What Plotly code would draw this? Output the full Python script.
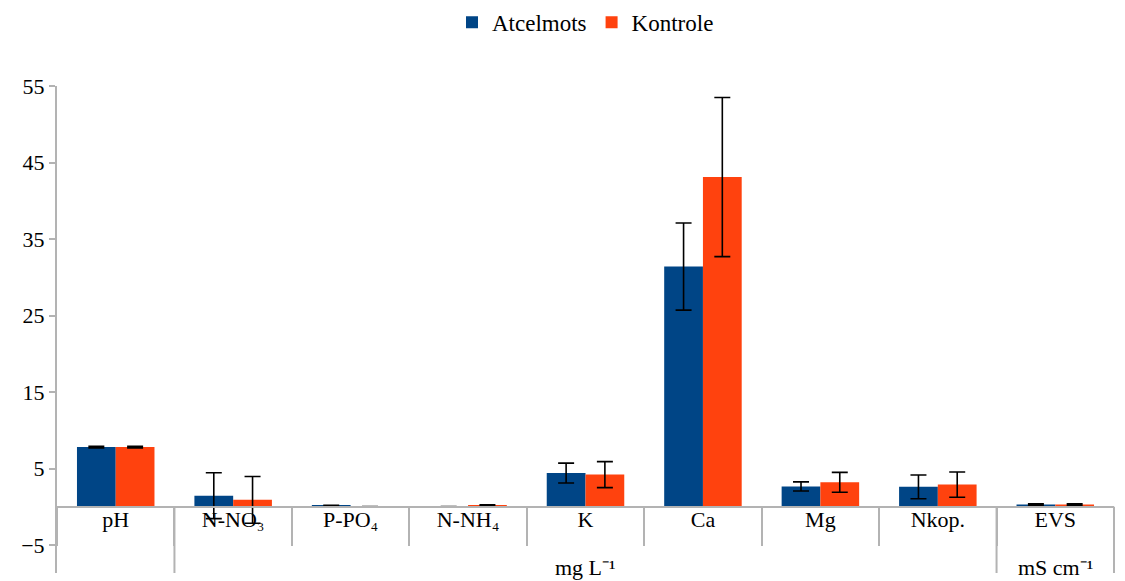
import plotly.graph_objects as go

categories = ["pH", "N-NO₃", "P-PO₄", "N-NH₄", "K", "Ca", "Mg", "Nkop.", "EVS"]
group_ids = ["", " ", " ", " ", " ", " ", " ", " ", "  "]
unit_labels = [("mg L⁻¹", "K"), ("mS cm⁻¹", "EVS")]

atcelmots = [7.8, 1.45, 0.1, 0.02, 4.4, 31.4, 2.65, 2.6, 0.3]
atcelmots_err = [0.1, 3.0, 0.1, 0.02, 1.3, 5.7, 0.6, 1.55, 0.1]
kontrole = [7.8, 0.9, 0.02, 0.15, 4.2, 43.1, 3.2, 2.9, 0.3]
kontrole_err = [0.1, 3.05, 0.02, 0.1, 1.7, 10.4, 1.3, 1.65, 0.1]

x = [group_ids, categories]
font = "Liberation Serif, Times New Roman, serif"
gray = "#b3b3b3"

fig = go.Figure()
fig.add_trace(go.Bar(
    name="Atcelmots", x=x, y=atcelmots, marker_color="#004586", marker_line_width=0,
    error_y=dict(type="data", array=atcelmots_err, color="black", thickness=1.6, width=8),
))
fig.add_trace(go.Bar(
    name="Kontrole", x=x, y=kontrole, marker_color="#FF420E", marker_line_width=0,
    error_y=dict(type="data", array=kontrole_err, color="black", thickness=1.6, width=8),
))

ymin, ymax = -8.66, 55.0

# long group dividers from the zero line to the bottom of the plot
n = len(categories)
bounds = [i for i in range(1, n) if group_ids[i] != group_ids[i - 1]] + [n]
for b in bounds:
    fig.add_shape(type="line", xref="paper", yref="y", x0=b / n, x1=b / n,
                  y0=ymin, y1=0, line=dict(color=gray, width=2), layer="below")

for text, cat in unit_labels:
    idx = categories.index(cat)
    fig.add_annotation(xref="paper", yref="y", x=(idx + 0.5) / n, y=-7.9,
                       text=text, showarrow=False, xanchor="center", yanchor="middle",
                       font=dict(family=font, size=22, color="black"))

fig.update_layout(
    width=1117, height=573,
    barmode="group", bargap=0.34, bargroupgap=0,
    plot_bgcolor="white", paper_bgcolor="white",
    margin=dict(l=49, r=11, t=78, b=8, autoexpand=False),
    font=dict(family=font, size=22, color="black"),
    showlegend=True,
    legend=dict(orientation="h", x=0.5, xanchor="center", y=1.131, yref="paper",
                yanchor="middle", valign="middle", font=dict(family=font, size=23),
                itemwidth=30, tracegroupgap=0),
    xaxis=dict(
        type="multicategory", anchor="free", position=(0 - ymin) / (ymax - ymin),
        showline=True, linecolor=gray, linewidth=2,
        ticks="outside", ticklen=38, tickcolor=gray, tickwidth=2,
        showdividers=False,
        showgrid=False, automargin=False,
        ticklabelstandoff=-7,
        tickfont=dict(family=font, size=22),
    ),
    yaxis=dict(
        range=[ymin, ymax], tick0=-5, dtick=10,
        showline=True, linecolor=gray, linewidth=2,
        ticks="outside", ticklen=6, tickcolor=gray, tickwidth=2,
        showgrid=False, zeroline=False, automargin=False,
        tickfont=dict(family=font, size=22),
    ),
)

fig.write_html("out.html")
